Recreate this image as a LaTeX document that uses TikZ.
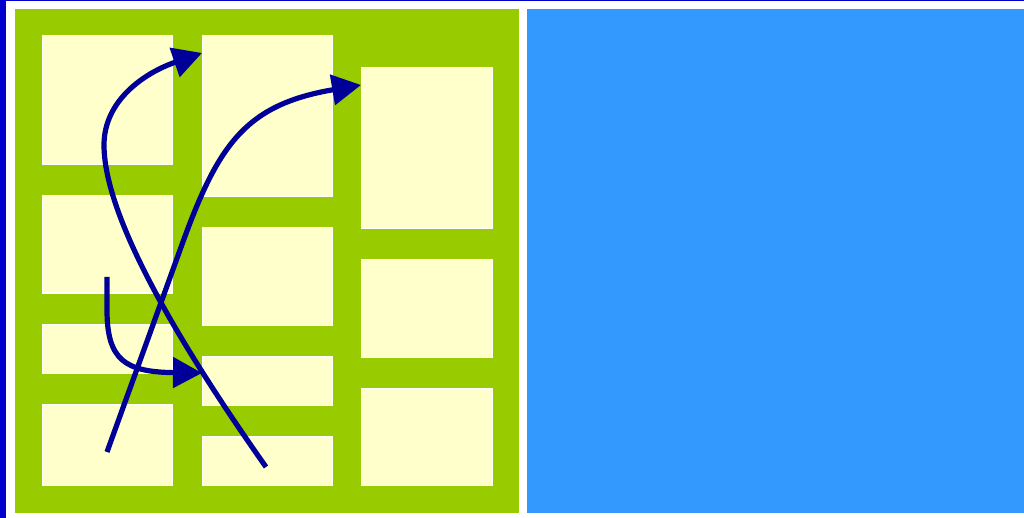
\documentclass[tikz,border=0pt]{standalone}
\usepackage{tikz}
\usepackage{xcolor}
\usetikzlibrary{arrows.meta}
\definecolor{Frame_Blue}{HTML}{0000CC}
\definecolor{Flow_Navy}{HTML}{000099}
\definecolor{Grid_Green}{HTML}{99CC00}
\definecolor{Pane_Blue}{HTML}{3399FF}
\definecolor{Cell_Cream}{HTML}{FFFFCC}

\begin{document}
\begin{tikzpicture}[x=1pt, y=-1pt,
  cell/.style={fill=Cell_Cream, draw=white, line width=1pt},
  flow/.style={draw=Flow_Navy, line width=5.2pt, -{Triangle[length=29pt, width=30pt]}}]
\useasboundingbox (0,0) rectangle (1024,518);
\fill[white] (0,0) rectangle (1024,518);
% --- Frame ---
\fill[Frame_Blue] (0,0) rectangle (1024,1.5);
\fill[Frame_Blue] (0,0) rectangle (6,518);
% --- Panels ---
\fill[Grid_Green] (15,9) rectangle (519,513);
\fill[Pane_Blue] (527,9) rectangle (1024,513);
% --- Column 1 ---
\foreach \top/\bot in {36/165, 196/293, 324/373, 404/485} {
  \filldraw[cell] (42,\top) rectangle (172,\bot);
}
% --- Column 2 ---
\foreach \top/\bot in {36/197, 228/325, 356/405, 436/485} {
  \filldraw[cell] (202,\top) rectangle (332,\bot);
}
% --- Column 3 ---
\foreach \top/\bot in {68/229, 260/357, 388/485} {
  \filldraw[cell] (361,\top) rectangle (492,\bot);
}
% Flow end points
\coordinate (cross start) at (266,467);
\coordinate (cross turn) at (104,145);
\coordinate (cross end) at (202,53);
\coordinate (rise start) at (107,452);
\coordinate (rise turn) at (180,250);
\coordinate (rise end) at (361,85);
\coordinate (hook start) at (107,277);
\coordinate (hook turn) at (107,310);
\coordinate (hook end) at (202,373);
% --- Flows ---
\draw[flow] (cross start) .. controls (197,369) and (104,225) .. (cross turn)
  .. controls (104,100) and (145,72.6) .. (cross end);
\draw[flow] (rise start) -- (rise turn) .. controls (217,147) and (243,105) .. (rise end);
\draw[flow] (hook start) -- (hook turn) .. controls (107,360) and (125,372) .. (hook end);
\end{tikzpicture}
\end{document}
